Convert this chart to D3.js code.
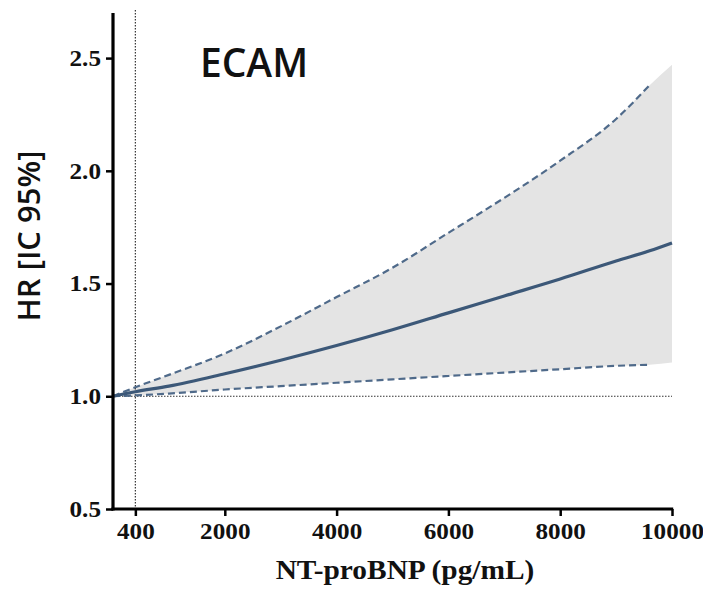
<!DOCTYPE html>
<html><head><meta charset="utf-8">
<script src="https://cdn.jsdelivr.net/npm/d3@7"></script>
<style>body{margin:0;background:#fff}</style>
</head><body>
<svg id="c" width="703" height="590"></svg>
<script>
// Data
const xBNP      = [0, 400, 1000, 2000, 3000, 4000, 5000, 6000, 7000, 8000, 9000, 9600, 10000];
const hrMain    = [1.0, 1.02, 1.045, 1.10, 1.16, 1.225, 1.295, 1.37, 1.445, 1.52, 1.60, 1.645, 1.68];
const hrUpper   = [1.0, 1.04, 1.095, 1.19, 1.31, 1.44, 1.57, 1.725, 1.88, 2.045, 2.23, 2.38, 2.47];
const hrLower   = [1.0, 1.004, 1.012, 1.03, 1.045, 1.06, 1.075, 1.09, 1.105, 1.12, 1.135, 1.14, 1.15];
const xTicks    = [400, 2000, 4000, 6000, 8000, 10000];
const yTicks    = [0.5, 1.0, 1.5, 2.0, 2.5];
const refX = 400, refY = 1.0;
const dashedEnd = 9600;

const svg = d3.select("#c");
const x = d3.scaleLinear().domain([0, 10000]).range([113, 672]);
const y = d3.scaleLinear().domain([0.5, 2.7]).range([509, 13]);

const pts = xBNP.map((v,i)=>({x:v, m:hrMain[i], u:hrUpper[i], l:hrLower[i]}));
const curve = d3.curveMonotoneX;

// band
svg.append("path").datum(pts)
  .attr("d", d3.area().x(d=>x(d.x)).y0(d=>y(d.l)).y1(d=>y(d.u)).curve(curve))
  .attr("fill", "#e4e4e4");

// reference dotted lines
svg.append("line").attr("x1", x(refX)).attr("x2", x(refX)).attr("y1", 10).attr("y2", y(0.5))
  .attr("stroke", "#333").attr("stroke-width", 1.2).attr("stroke-dasharray", "1.5,1.5");
svg.append("line").attr("x1", x(0)).attr("x2", x(10000)).attr("y1", y(refY)).attr("y2", y(refY))
  .attr("stroke", "#333").attr("stroke-width", 1.2).attr("stroke-dasharray", "1.5,1.5");

const dpts = pts.filter(d=>d.x<=dashedEnd);
const lineColor = "#3c5878";
svg.append("path").datum(dpts)
  .attr("d", d3.line().x(d=>x(d.x)).y(d=>y(d.u)).curve(curve))
  .attr("fill","none").attr("stroke", "#4f6a8a").attr("stroke-width", 2.2).attr("stroke-dasharray","7,4");
svg.append("path").datum(dpts)
  .attr("d", d3.line().x(d=>x(d.x)).y(d=>y(d.l)).curve(curve))
  .attr("fill","none").attr("stroke", "#4f6a8a").attr("stroke-width", 2.2).attr("stroke-dasharray","7,4");
svg.append("path").datum(pts)
  .attr("d", d3.line().x(d=>x(d.x)).y(d=>y(d.m)).curve(curve))
  .attr("fill","none").attr("stroke", lineColor).attr("stroke-width", 3.2);

// axes
const ax = svg.append("g").attr("transform", `translate(0,${y(0.5)})`)
  .call(d3.axisBottom(x).tickValues(xTicks).tickFormat(d3.format("d")).tickSizeOuter(0).tickSize(7).tickPadding(7));
const ay = svg.append("g").attr("transform", `translate(${x(0)},0)`)
  .call(d3.axisLeft(y).tickValues(yTicks).tickFormat(d3.format(".1f")).tickSizeOuter(0).tickSize(7).tickPadding(4));
[ax, ay].forEach(g=>{
  g.select(".domain").attr("stroke","#000").attr("stroke-width",3.2);
  g.selectAll(".tick line").attr("stroke","#000").attr("stroke-width",2.5);
  g.selectAll(".tick text").attr("fill","#111")
    .style("font-family","'Liberation Serif','DejaVu Serif',serif").style("font-weight","bold").style("font-size","22.5px")
    .attr("transform","scale(1.12,1)");
});
ay.selectAll(".tick text").attr("x", -12/1.12);
ay.select(".domain").attr("d", `M0,${y(2.7)}V${y(0.5)+1.6}`);
ax.select(".domain").attr("d", `M${x(0)-1.6},0H${x(10000)+1.2}`);

// titles
svg.append("text").attr("transform","translate(405,579) scale(1.05,1)").attr("text-anchor","middle")
  .style("font-family","'Liberation Serif',serif").style("font-weight","bold").style("font-size","28px")
  .attr("fill","#111").text("NT-proBNP (pg/mL)");
svg.append("text").attr("transform","translate(40,236) rotate(-90)").attr("text-anchor","middle")
  .style("font-family","'Open Sans',sans-serif").style("font-weight","600").style("font-size","31px")
  .attr("fill","#111").text("HR [IC 95%]");
svg.append("text").attr("x", 254).attr("y", 77).attr("text-anchor","middle")
  .style("font-family","'Open Sans',sans-serif").style("font-weight","600").style("font-size","39px")
  .attr("fill","#111").text("ECAM");
</script>
</body></html>
